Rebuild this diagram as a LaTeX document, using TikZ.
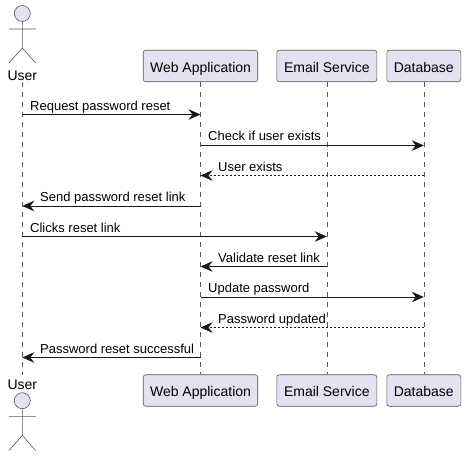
\documentclass[tikz,border=0pt]{standalone}
\usepackage{fontspec}
\setmainfont{Liberation Sans}
\usetikzlibrary{arrows.meta}
\definecolor{partfill}{HTML}{E2E2F0}
\definecolor{ink}{HTML}{181818}
\colorlet{thinink}{ink!72}
\tikzset{
  part/.style={draw=thinink,line width=0.6pt,fill=partfill,rounded corners=2.5pt,minimum height=31.5pt,inner sep=0pt,text height=12pt,text depth=0pt,font=\fontsize{14}{16}\selectfont,text=black},
  lifeline/.style={draw=thinink,line width=0.5pt,dash pattern=on 5pt off 5pt},
  limb/.style={draw=thinink,line width=0.6pt},
  actorname/.style={inner sep=0pt,font=\fontsize{14}{16}\selectfont,text=black},
  msg/.style={draw=ink,line width=0.9pt,-{Stealth[length=12pt,width=10.5pt,inset=4pt]}},
  ret/.style={draw=ink,line width=0.7pt,dash pattern=on 2pt off 2pt,-{Stealth[length=12pt,width=10.5pt,inset=4pt]}},
  lab/.style={anchor=base west,inner sep=0pt,font=\fontsize{13}{15}\selectfont,text=black}
}
\begin{document}
\begin{tikzpicture}[x=1pt,y=1pt]
\useasboundingbox (0,0) rectangle (466,-456);
% participants
\node[actorname,text height=10.2pt,text depth=2pt] (userT) at (22.3,-76) {User};
\node[part,minimum width=114.5pt] (webT) at (200.5,-66) {Web Application};
\node[part,minimum width=100pt] (mailT) at (326.8,-66) {Email Service};
\node[part,minimum width=74pt] (dbT) at (423.8,-66) {Database};
\node[actorname,text height=14pt,text depth=0pt] (userB) at (22.3,-382.3) {User};
\node[part,minimum width=114.5pt] (webB) at (200.5,-390.5) {Web Application};
\node[part,minimum width=100pt] (mailB) at (326.8,-390.5) {Email Service};
\node[part,minimum width=74pt] (dbB) at (423.8,-390.5) {Database};
% lifelines
\draw[lifeline] (userT.south) -- (userB.north);
\draw[lifeline] (webT.south) -- (webB.north);
\draw[lifeline] (mailT.south) -- (mailB.north);
\draw[lifeline] (dbT.south) -- (dbB.north);
% actors
\draw[limb,fill=partfill] (22.3,-13.5) circle (8);
\draw[limb] (22.3,-21.5) -- (22.3,-48) (9,-29) -- (35.6,-29) (9,-63) -- (22.3,-48) -- (35.6,-63);
\draw[limb,fill=partfill] (22.3,-400.7) circle (8);
\draw[limb] (22.3,-408.7) -- (22.3,-435.3) (9,-416.3) -- (35.6,-416.3) (9,-450.5) -- (22.3,-435.3) -- (35.6,-450.5);
% message rows
\coordinate (m1) at (0,-114.5);
\coordinate (m2) at (0,-145.5);
\coordinate (m3) at (0,-175.5);
\coordinate (m4) at (0,-206);
\coordinate (m5) at (0,-236.5);
\coordinate (m6) at (0,-266.5);
\coordinate (m7) at (0,-297);
\coordinate (m8) at (0,-327.5);
\coordinate (m9) at (0,-357.5);
\draw[msg] (userT.south |- m1) -- (webT.south |- m1);
\draw[msg] (webT.south |- m2) -- (dbT.south |- m2);
\draw[ret] (dbT.south |- m3) -- (webT.south |- m3);
\draw[msg] (webT.south |- m4) -- (userT.south |- m4);
\draw[msg] (userT.south |- m5) -- (mailT.south |- m5);
\draw[msg] (mailT.south |- m6) -- (webT.south |- m6);
\draw[msg] (webT.south |- m7) -- (dbT.south |- m7);
\draw[ret] (dbT.south |- m8) -- (webT.south |- m8);
\draw[msg] (webT.south |- m9) -- (userT.south |- m9);
% labels
\node[lab] (l1) at (30,-110) {Request password reset};
\node[lab] (l2) at (208,-140) {Check if user exists};
\node[lab] (l3) at (218,-171) {User exists};
\node[lab] (l4) at (40,-201) {Send password reset link};
\node[lab] (l5) at (30,-232) {Clicks reset link};
\node[lab] (l6) at (218,-262) {Validate reset link};
\node[lab] (l7) at (208,-292) {Update password};
\node[lab] (l8) at (218,-323) {Password updated};
\node[lab] (l9) at (40,-353) {Password reset successful};
\end{tikzpicture}
\end{document}
